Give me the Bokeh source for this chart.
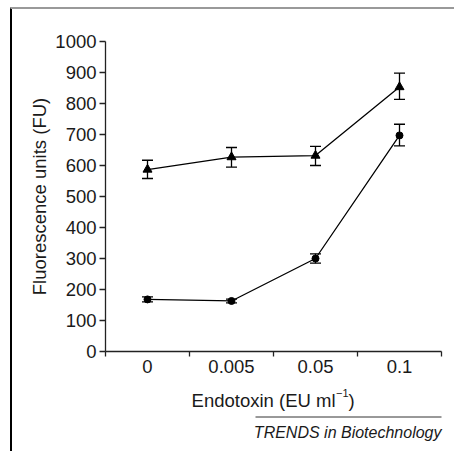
from bokeh.plotting import figure
from bokeh.models import (Range1d, FixedTicker, ColumnDataSource, Whisker, TeeHead,
                          Label, Arrow)
from bokeh.embed import file_html
from bokeh.resources import INLINE

# ---- data ----
categories = ["0", "0.005", "0.05", "0.1"]
tri_values = [587, 627, 632, 853]
tri_lower = [558, 595, 600, 813]
tri_upper = [617, 658, 662, 898]
circ_values = [168, 163, 300, 697]
circ_lower = [160, 157, 285, 663]
circ_upper = [176, 169, 315, 733]
y_ticks = [0, 100, 200, 300, 400, 500, 600, 700, 800, 900, 1000]

xs = [i + 0.5 for i in range(len(categories))]
bounds = [float(i) for i in range(len(categories) + 1)]

FONT = "Liberation Sans"
TXT = "#1a1a1a"

W, H = 454, 451
# layout: plot area in canvas pixels
LEFT, RIGHT, TOP, BOTTOM = 105, 441, 41, 351
YMAX = 1000
sx = (RIGHT - LEFT) / len(categories)   # px per category
sy = (BOTTOM - TOP) / YMAX              # px per unit


def px_to_x(px):
    return (px - LEFT) / sx


def py_to_y(py):
    return (BOTTOM - py) / sy


p = figure(width=W, height=H, output_backend="svg", toolbar_location=None,
           x_range=Range1d(px_to_x(0), px_to_x(W)),
           y_range=Range1d(py_to_y(H), py_to_y(0)),
           min_border=0)
p.outline_line_color = None
p.grid.visible = False
p.background_fill_color = "white"
p.border_fill_color = "white"

# y axis
ya = p.yaxis[0]
ya.fixed_location = 0
ya.bounds = (0, YMAX)
ya.ticker = FixedTicker(ticks=y_ticks, minor_ticks=[])
ya.major_tick_out = 6
ya.major_tick_in = 0
ya.minor_tick_out = 0
ya.minor_tick_in = 0
ya.major_label_standoff = 3
ya.major_label_text_font = FONT
ya.major_label_text_font_size = "18.5px"
ya.major_label_text_color = TXT
ya.axis_label = "Fluorescence units (FU)"
ya.axis_label_text_font = FONT
ya.axis_label_text_font_size = "18.5px"
ya.axis_label_text_font_style = "normal"
ya.axis_label_text_color = TXT
ya.axis_label_standoff = 2
ya.axis_line_color = "#222222"
ya.axis_line_width = 1.3
ya.major_tick_line_color = "#222222"
ya.major_tick_line_width = 1.3

# x axis
xa = p.xaxis[0]
xa.fixed_location = 0
xa.bounds = (0, len(categories))
xa.ticker = FixedTicker(ticks=xs, minor_ticks=bounds)
xa.major_label_overrides = {x: c for x, c in zip(xs, categories)}
xa.major_tick_out = 0
xa.major_tick_in = 0
xa.minor_tick_out = 5
xa.minor_tick_in = 0
xa.minor_tick_line_color = "#222222"
xa.minor_tick_line_width = 1.3
xa.major_label_standoff = 3
xa.major_label_text_font = FONT
xa.major_label_text_font_size = "18.5px"
xa.major_label_text_color = TXT
xa.axis_line_color = "#222222"
xa.axis_line_width = 1.3

# ---- series ----
tri_src = ColumnDataSource(dict(x=xs, y=tri_values, lo=tri_lower, hi=tri_upper))
circ_src = ColumnDataSource(dict(x=xs, y=circ_values, lo=circ_lower, hi=circ_upper))

for src in (tri_src, circ_src):
    p.add_layout(Whisker(source=src, base="x", lower="lo", upper="hi",
                         line_color="black", line_width=1.3,
                         upper_head=TeeHead(size=11, line_color="black", line_width=1.3),
                         lower_head=TeeHead(size=11, line_color="black", line_width=1.3)))

p.line("x", "y", source=tri_src, line_color="black", line_width=1.3)
p.scatter("x", "y", source=tri_src, marker="triangle", size=9,
          fill_color="black", line_color="black")
p.line("x", "y", source=circ_src, line_color="black", line_width=1.3)
p.scatter("x", "y", source=circ_src, marker="circle", size=7,
          fill_color="black", line_color="black")

# ---- x-axis title with superscript ----
p.add_layout(Label(x=px_to_x(335), y=py_to_y(400), text="Endotoxin (EU ml",
                   text_align="right", text_baseline="alphabetic",
                   text_font=FONT, text_font_size="18.5px", text_color=TXT))
p.add_layout(Label(x=px_to_x(335.5), y=py_to_y(392), text="\u22121",
                   text_align="left", text_baseline="alphabetic",
                   text_font=FONT, text_font_size="11px", text_color=TXT))
p.add_layout(Label(x=px_to_x(348), y=py_to_y(400), text=")",
                   text_align="left", text_baseline="alphabetic",
                   text_font=FONT, text_font_size="18.5px", text_color=TXT))

# journal credit
p.add_layout(Label(x=px_to_x(441), y=py_to_y(432), text="TRENDS in Biotechnology",
                   text_align="right", text_baseline="alphabetic",
                   text_font=FONT, text_font_size="16px", text_font_style="italic",
                   text_color=TXT))
p.add_layout(Arrow(x_start=px_to_x(255), y_start=py_to_y(416.5),
                   x_end=px_to_x(441), y_end=py_to_y(416.5),
                   start=None, end=None, line_color="#333333", line_width=1))

# outer frame lines
p.add_layout(Arrow(x_start=px_to_x(10.5), y_start=py_to_y(7),
                   x_end=px_to_x(10.5), y_end=py_to_y(H),
                   start=None, end=None, line_color="black", line_width=2))
p.add_layout(Arrow(x_start=px_to_x(10), y_start=py_to_y(7.5),
                   x_end=px_to_x(W), y_end=py_to_y(7.5),
                   start=None, end=None, line_color="#999999", line_width=2))

open("out.html", "w").write(file_html(p, INLINE))
